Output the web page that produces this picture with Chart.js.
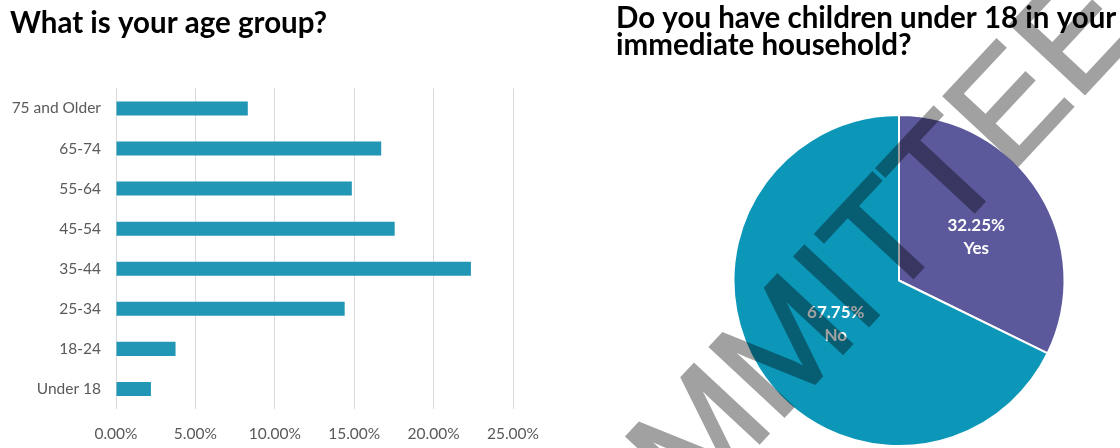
<!DOCTYPE html>
<html>
<head>
<meta charset="utf-8">
<script src="https://cdn.jsdelivr.net/npm/chart.js@4"></script>
<style>
  html, body { margin: 0; padding: 0; background: #fff; overflow: hidden; }
  #wrap { position: relative; width: 1120px; height: 448px; overflow: hidden; }
  #ageBox { position: absolute; left: 0; top: 0; }
  #kidsBox { position: absolute; left: 560px; top: 0; }
</style>
</head>
<body>
<div id="wrap">
  <div id="ageBox"><canvas id="ageChart" width="560" height="448"></canvas></div>
  <div id="kidsBox"><canvas id="kidsChart" width="623" height="448"></canvas></div>
</div>
<script>
// age survey (percent of respondents), youngest first
const ageGroups = ['Under 18', '18-24', '25-34', '35-44', '45-54', '55-64', '65-74', '75 and Older'];
const agePercents = [2.2, 3.75, 14.4, 22.35, 17.55, 14.85, 16.7, 8.3];
const ageTicks = [0, 5, 10, 15, 20, 25];

// children under 18 in household
const kidsAnswers = ['Yes', 'No'];
const kidsPercents = [32.25, 67.75];

const tickFont = { family: 'Lato', size: 15.5 };
const titleFont = { family: 'Lato', size: 29.5, weight: 'bold' };

new Chart(document.getElementById('ageChart'), {
  type: 'bar',
  data: {
    labels: ageGroups,
    datasets: [{
      data: agePercents,
      backgroundColor: '#2196b5',
      barPercentage: 0.35,
      categoryPercentage: 1,
    }],
  },
  options: {
    indexAxis: 'y',
    responsive: false,
    animation: false,
    layout: { padding: { left: 10, right: 47, top: 0, bottom: 0 } },
    plugins: {
      legend: { display: false },
      tooltip: { enabled: false },
      title: {
        display: true,
        text: 'What is your age group?',
        align: 'start',
        color: '#000',
        font: { ...titleFont, lineHeight: 1.2 },
        padding: { top: 6, bottom: 47 },
      },
    },
    scales: {
      x: {
        min: ageTicks[0],
        max: ageTicks[ageTicks.length - 1],
        ticks: {
          stepSize: ageTicks[1] - ageTicks[0],
          callback: (v) => v.toFixed(2) + '%',
          color: '#595959',
          font: tickFont,
          padding: 16,
        },
        grid: { color: '#d9d9d9', drawTicks: false },
        border: { display: false },
        afterFit: (s) => { s.height = 39; },
      },
      y: {
        reverse: true,
        ticks: { color: '#595959', font: tickFont, padding: 15 },
        grid: { display: false, drawTicks: false },
        border: { display: false },
        afterFit: (s) => { s.width = 106; },
      },
    },
  },
});

// white "value% / answer" labels inside each slice
const sliceLabels = {
  id: 'sliceLabels',
  afterDatasetsDraw(chart) {
    const ctx = chart.ctx;
    const meta = chart.getDatasetMeta(0);
    ctx.save();
    ctx.fillStyle = '#fff';
    ctx.font = 'bold 17px Lato';
    ctx.textAlign = 'center';
    ctx.textBaseline = 'middle';
    meta.data.forEach((arc, i) => {
      const p = arc.tooltipPosition();
      const x = p.x + 7;
      ctx.fillText(kidsPercents[i].toFixed(2) + '%', x, p.y - 11.5);
      ctx.fillText(kidsAnswers[i], x, p.y + 11.5);
    });
    ctx.restore();
  },
};

// diagonal stamp across the pie panel: drawn solid off-screen, then laid over translucent
const stamp = {
  id: 'stamp',
  afterDraw(chart) {
    const { ctx, width, height } = chart;
    const layer = document.createElement('canvas');
    layer.width = width;
    layer.height = height;
    const lc = layer.getContext('2d');
    lc.translate(283, 353);
    lc.rotate(-47 * Math.PI / 180);
    lc.font = '147px "Liberation Sans"';
    lc.textAlign = 'center';
    lc.textBaseline = 'alphabetic';
    lc.fillStyle = '#000';
    lc.strokeStyle = '#000';
    lc.lineWidth = 3;
    lc.fillText('COMMITTEE', 0, 0);
    lc.strokeText('COMMITTEE', 0, 0);
    ctx.save();
    ctx.globalAlpha = 0.37;
    ctx.drawImage(layer, 0, 0);
    ctx.restore();
  },
};

new Chart(document.getElementById('kidsChart'), {
  type: 'pie',
  data: {
    labels: kidsAnswers,
    datasets: [{
      data: kidsPercents,
      backgroundColor: ['#5b599c', '#0c97b8'],
      borderColor: '#fff',
      borderWidth: 2,
    }],
  },
  options: {
    responsive: false,
    animation: false,
    layout: { padding: { left: 56, right: 1, top: 0, bottom: 1 } },
    plugins: {
      legend: { display: false },
      tooltip: { enabled: false },
      title: {
        display: true,
        text: ['Do you have children under 18 in your', 'immediate household?'],
        align: 'start',
        color: '#000',
        font: { ...titleFont, lineHeight: '27px' },
        padding: { top: 5, bottom: 55 },
      },
    },
  },
  plugins: [sliceLabels, stamp],
});
</script>
</body>
</html>
